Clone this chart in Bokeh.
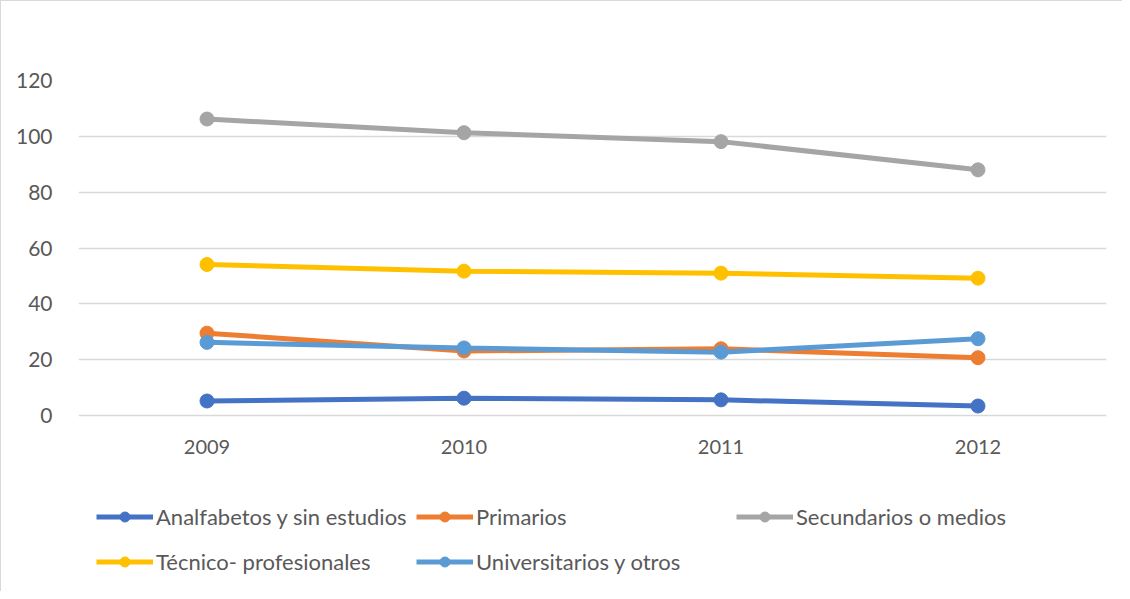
from bokeh.plotting import figure
from bokeh.models import Range1d, Legend, LegendItem, FactorRange
from bokeh.embed import file_html
from bokeh.resources import INLINE

years = ["2009", "2010", "2011", "2012"]
analfabetos = [5.2, 6.2, 5.6, 3.4]
primarios = [29.5, 23.1, 23.9, 20.7]
secundarios = [106.2, 101.3, 98.1, 88.0]
tecnico = [54.1, 51.7, 51.0, 49.2]
universitarios = [26.2, 24.2, 22.7, 27.5]
y_ticks = [0, 20, 40, 60, 80, 100, 120]

series = [
    ("Analfabetos y sin estudios", analfabetos, "#4472C4"),
    ("Primarios", primarios, "#ED7D31"),
    ("Secundarios o medios", secundarios, "#A5A5A5"),
    ("Técnico- profesionales", tecnico, "#FFC000"),
    ("Universitarios y otros", universitarios, "#5B9BD5"),
]

FONT = "Lato"
TXT = "#595959"

# frame spans down to the figure bottom so the legend can sit inside it;
# the value axis shows only 0..120 and the category axis is pinned at y = 0
p = figure(width=1122, height=591, x_range=FactorRange(*years), y_range=Range1d(-63.4, 120),
           output_backend="svg", toolbar_location=None,
           min_border_left=77, min_border_right=17, min_border_top=79, min_border_bottom=0)
p.styles = {"border-top": "1px solid #d9d9d9", "border-left": "1px solid #d9d9d9"}
p.outline_line_color = None
p.background_fill_color = "white"
p.border_fill_color = "white"

p.xgrid.grid_line_color = None
p.ygrid.grid_line_color = "#d9d9d9"
p.ygrid.grid_line_width = 1.3
p.yaxis.ticker = y_ticks
p.xaxis.fixed_location = 0

for ax in (p.xaxis, p.yaxis):
    ax.axis_line_color = None
    ax.major_tick_line_color = None
    ax.minor_tick_line_color = None
    ax.major_label_text_font = FONT
    ax.major_label_text_font_size = "20px"
    ax.major_label_text_color = TXT
p.yaxis.major_label_text_font_size = "21px"
p.xaxis.major_label_standoff = 18
p.yaxis.major_label_standoff = 20

items = []
for name, vals, color in series:
    l = p.line(years, vals, line_color=color, line_width=5)
    s = p.scatter(years, vals, size=14, fill_color=color, line_color=color)
    items.append(LegendItem(label=name, renderers=[l, s]))

legend = Legend(items=items, orientation="horizontal", ncols=3, location=(18, 11),
                glyph_width=57, glyph_height=25, label_standoff=3, label_width=255,
                label_height=40, spacing=5, padding=0, margin=0,
                label_text_font=FONT, label_text_font_size="22px", label_text_color=TXT,
                border_line_color=None, background_fill_alpha=0)
p.add_layout(legend)

open("out.html", "w").write(file_html(p, INLINE))
